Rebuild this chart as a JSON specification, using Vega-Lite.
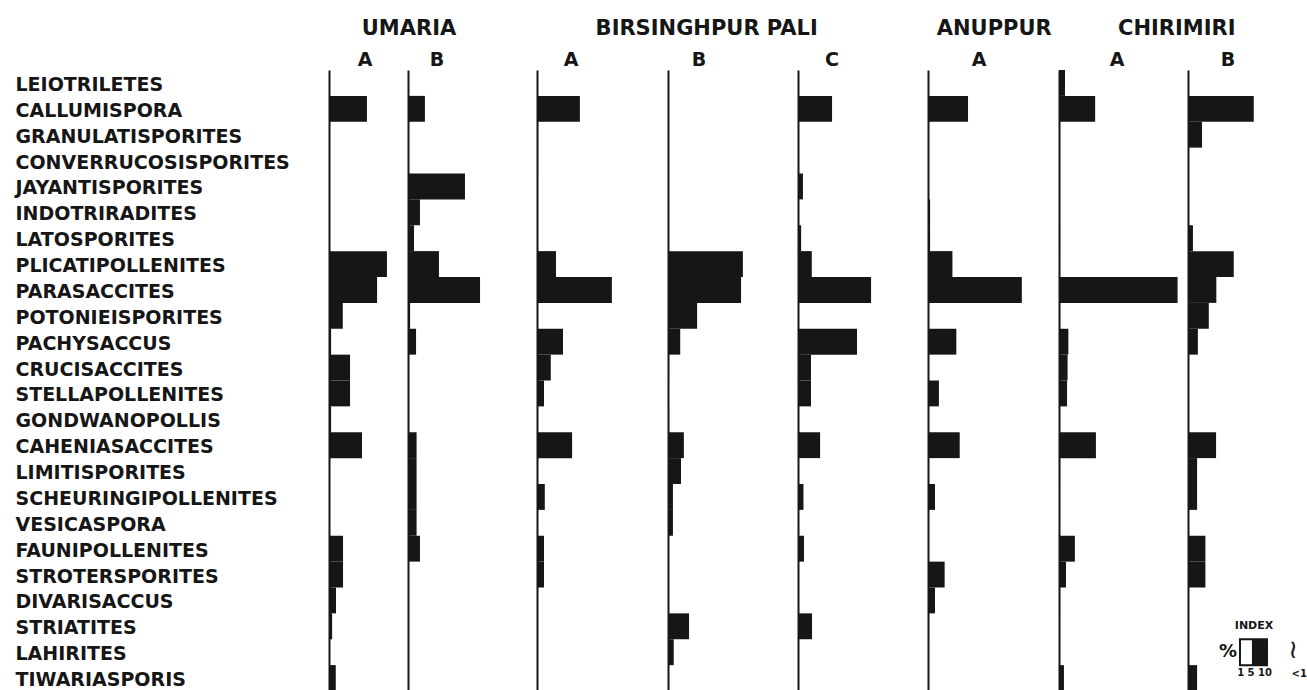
{
  "$schema": "https://vega.github.io/schema/vega-lite/v6.json",
  "background": "white",
  "padding": {"left": 15, "top": 18, "right": 0, "bottom": 0},
  "config": {
    "view": {"stroke": null},
    "concat": {"spacing": 0},
    "font": "DejaVu Sans",
    "title": {"font": "DejaVu Sans", "fontWeight": "bold", "color": "#161616"},
    "bar": {"color": "#161616"},
    "scale": {"nice": false},
    "axisY": {"domainColor": "#161616", "domainWidth": 2, "ticks": false, "tickSize": 0, "title": null, "grid": false}
  },
  "datasets": {
    "legendAnchor": [{"item": "index"}]
  },
  "data": {"values": [
    {"locality": "UMARIA", "sample": "A", "taxon": "CALLUMISPORA", "pct": 14.6},
    {"locality": "UMARIA", "sample": "A", "taxon": "PLICATIPOLLENITES", "pct": 22.3},
    {"locality": "UMARIA", "sample": "A", "taxon": "PARASACCITES", "pct": 18.5},
    {"locality": "UMARIA", "sample": "A", "taxon": "POTONIEISPORITES", "pct": 5.3},
    {"locality": "UMARIA", "sample": "A", "taxon": "PACHYSACCUS", "pct": 0.8},
    {"locality": "UMARIA", "sample": "A", "taxon": "CRUCISACCITES", "pct": 8.1},
    {"locality": "UMARIA", "sample": "A", "taxon": "STELLAPOLLENITES", "pct": 8.1},
    {"locality": "UMARIA", "sample": "A", "taxon": "GONDWANOPOLLIS", "pct": 0.8},
    {"locality": "UMARIA", "sample": "A", "taxon": "CAHENIASACCITES", "pct": 12.7},
    {"locality": "UMARIA", "sample": "A", "taxon": "FAUNIPOLLENITES", "pct": 5.4},
    {"locality": "UMARIA", "sample": "A", "taxon": "STROTERSPORITES", "pct": 5.4},
    {"locality": "UMARIA", "sample": "A", "taxon": "DIVARISACCUS", "pct": 2.7},
    {"locality": "UMARIA", "sample": "A", "taxon": "STRIATITES", "pct": 1.2},
    {"locality": "UMARIA", "sample": "A", "taxon": "TIWARIASPORIS", "pct": 2.6},

    {"locality": "UMARIA", "sample": "B", "taxon": "CALLUMISPORA", "pct": 6.5},
    {"locality": "UMARIA", "sample": "B", "taxon": "JAYANTISPORITES", "pct": 21.9},
    {"locality": "UMARIA", "sample": "B", "taxon": "INDOTRIRADITES", "pct": 4.6},
    {"locality": "UMARIA", "sample": "B", "taxon": "LATOSPORITES", "pct": 2.3},
    {"locality": "UMARIA", "sample": "B", "taxon": "PLICATIPOLLENITES", "pct": 11.9},
    {"locality": "UMARIA", "sample": "B", "taxon": "PARASACCITES", "pct": 27.7},
    {"locality": "UMARIA", "sample": "B", "taxon": "POTONIEISPORITES", "pct": 0.8},
    {"locality": "UMARIA", "sample": "B", "taxon": "PACHYSACCUS", "pct": 3.1},
    {"locality": "UMARIA", "sample": "B", "taxon": "CRUCISACCITES", "pct": 0.4},
    {"locality": "UMARIA", "sample": "B", "taxon": "STELLAPOLLENITES", "pct": 0.4},
    {"locality": "UMARIA", "sample": "B", "taxon": "GONDWANOPOLLIS", "pct": 0.4},
    {"locality": "UMARIA", "sample": "B", "taxon": "CAHENIASACCITES", "pct": 3.3},
    {"locality": "UMARIA", "sample": "B", "taxon": "LIMITISPORITES", "pct": 3.3},
    {"locality": "UMARIA", "sample": "B", "taxon": "SCHEURINGIPOLLENITES", "pct": 3.3},
    {"locality": "UMARIA", "sample": "B", "taxon": "VESICASPORA", "pct": 3.3},
    {"locality": "UMARIA", "sample": "B", "taxon": "FAUNIPOLLENITES", "pct": 4.6},

    {"locality": "BIRSINGHPUR PALI", "sample": "A", "taxon": "CALLUMISPORA", "pct": 16.5},
    {"locality": "BIRSINGHPUR PALI", "sample": "A", "taxon": "GRANULATISPORITES", "pct": 0.4},
    {"locality": "BIRSINGHPUR PALI", "sample": "A", "taxon": "CONVERRUCOSISPORITES", "pct": 0.4},
    {"locality": "BIRSINGHPUR PALI", "sample": "A", "taxon": "PLICATIPOLLENITES", "pct": 7.3},
    {"locality": "BIRSINGHPUR PALI", "sample": "A", "taxon": "PARASACCITES", "pct": 28.8},
    {"locality": "BIRSINGHPUR PALI", "sample": "A", "taxon": "PACHYSACCUS", "pct": 10.0},
    {"locality": "BIRSINGHPUR PALI", "sample": "A", "taxon": "CRUCISACCITES", "pct": 5.3},
    {"locality": "BIRSINGHPUR PALI", "sample": "A", "taxon": "STELLAPOLLENITES", "pct": 2.7},
    {"locality": "BIRSINGHPUR PALI", "sample": "A", "taxon": "CAHENIASACCITES", "pct": 13.5},
    {"locality": "BIRSINGHPUR PALI", "sample": "A", "taxon": "SCHEURINGIPOLLENITES", "pct": 3.0},
    {"locality": "BIRSINGHPUR PALI", "sample": "A", "taxon": "FAUNIPOLLENITES", "pct": 2.7},
    {"locality": "BIRSINGHPUR PALI", "sample": "A", "taxon": "STROTERSPORITES", "pct": 2.7},

    {"locality": "BIRSINGHPUR PALI", "sample": "B", "taxon": "PLICATIPOLLENITES", "pct": 28.8},
    {"locality": "BIRSINGHPUR PALI", "sample": "B", "taxon": "PARASACCITES", "pct": 28.1},
    {"locality": "BIRSINGHPUR PALI", "sample": "B", "taxon": "POTONIEISPORITES", "pct": 11.2},
    {"locality": "BIRSINGHPUR PALI", "sample": "B", "taxon": "PACHYSACCUS", "pct": 4.7},
    {"locality": "BIRSINGHPUR PALI", "sample": "B", "taxon": "CRUCISACCITES", "pct": 0.4},
    {"locality": "BIRSINGHPUR PALI", "sample": "B", "taxon": "GONDWANOPOLLIS", "pct": 0.4},
    {"locality": "BIRSINGHPUR PALI", "sample": "B", "taxon": "CAHENIASACCITES", "pct": 6.1},
    {"locality": "BIRSINGHPUR PALI", "sample": "B", "taxon": "LIMITISPORITES", "pct": 5.0},
    {"locality": "BIRSINGHPUR PALI", "sample": "B", "taxon": "SCHEURINGIPOLLENITES", "pct": 1.9},
    {"locality": "BIRSINGHPUR PALI", "sample": "B", "taxon": "VESICASPORA", "pct": 1.9},
    {"locality": "BIRSINGHPUR PALI", "sample": "B", "taxon": "STRIATITES", "pct": 8.1},
    {"locality": "BIRSINGHPUR PALI", "sample": "B", "taxon": "LAHIRITES", "pct": 2.2},
    {"locality": "BIRSINGHPUR PALI", "sample": "B", "taxon": "TIWARIASPORIS", "pct": 0.4},

    {"locality": "BIRSINGHPUR PALI", "sample": "C", "taxon": "CALLUMISPORA", "pct": 13.1},
    {"locality": "BIRSINGHPUR PALI", "sample": "C", "taxon": "JAYANTISPORITES", "pct": 1.9},
    {"locality": "BIRSINGHPUR PALI", "sample": "C", "taxon": "LATOSPORITES", "pct": 1.2},
    {"locality": "BIRSINGHPUR PALI", "sample": "C", "taxon": "PLICATIPOLLENITES", "pct": 5.3},
    {"locality": "BIRSINGHPUR PALI", "sample": "C", "taxon": "PARASACCITES", "pct": 28.1},
    {"locality": "BIRSINGHPUR PALI", "sample": "C", "taxon": "PACHYSACCUS", "pct": 22.7},
    {"locality": "BIRSINGHPUR PALI", "sample": "C", "taxon": "CRUCISACCITES", "pct": 5.0},
    {"locality": "BIRSINGHPUR PALI", "sample": "C", "taxon": "STELLAPOLLENITES", "pct": 5.0},
    {"locality": "BIRSINGHPUR PALI", "sample": "C", "taxon": "CAHENIASACCITES", "pct": 8.5},
    {"locality": "BIRSINGHPUR PALI", "sample": "C", "taxon": "SCHEURINGIPOLLENITES", "pct": 2.1},
    {"locality": "BIRSINGHPUR PALI", "sample": "C", "taxon": "FAUNIPOLLENITES", "pct": 2.3},
    {"locality": "BIRSINGHPUR PALI", "sample": "C", "taxon": "STRIATITES", "pct": 5.4},

    {"locality": "ANUPPUR", "sample": "A", "taxon": "CALLUMISPORA", "pct": 15.4},
    {"locality": "ANUPPUR", "sample": "A", "taxon": "INDOTRIRADITES", "pct": 0.8},
    {"locality": "ANUPPUR", "sample": "A", "taxon": "LATOSPORITES", "pct": 0.8},
    {"locality": "ANUPPUR", "sample": "A", "taxon": "PLICATIPOLLENITES", "pct": 9.4},
    {"locality": "ANUPPUR", "sample": "A", "taxon": "PARASACCITES", "pct": 36.1},
    {"locality": "ANUPPUR", "sample": "A", "taxon": "PACHYSACCUS", "pct": 10.9},
    {"locality": "ANUPPUR", "sample": "A", "taxon": "STELLAPOLLENITES", "pct": 4.2},
    {"locality": "ANUPPUR", "sample": "A", "taxon": "CAHENIASACCITES", "pct": 12.2},
    {"locality": "ANUPPUR", "sample": "A", "taxon": "SCHEURINGIPOLLENITES", "pct": 2.7},
    {"locality": "ANUPPUR", "sample": "A", "taxon": "STROTERSPORITES", "pct": 6.4},
    {"locality": "ANUPPUR", "sample": "A", "taxon": "DIVARISACCUS", "pct": 2.7},
    {"locality": "ANUPPUR", "sample": "A", "taxon": "STRIATITES", "pct": 0.4},

    {"locality": "CHIRIMIRI", "sample": "A", "taxon": "LEIOTRILETES", "pct": 2.3},
    {"locality": "CHIRIMIRI", "sample": "A", "taxon": "CALLUMISPORA", "pct": 13.9},
    {"locality": "CHIRIMIRI", "sample": "A", "taxon": "LATOSPORITES", "pct": 0.4},
    {"locality": "CHIRIMIRI", "sample": "A", "taxon": "PARASACCITES", "pct": 45.6},
    {"locality": "CHIRIMIRI", "sample": "A", "taxon": "POTONIEISPORITES", "pct": 0.4},
    {"locality": "CHIRIMIRI", "sample": "A", "taxon": "PACHYSACCUS", "pct": 3.6},
    {"locality": "CHIRIMIRI", "sample": "A", "taxon": "CRUCISACCITES", "pct": 3.3},
    {"locality": "CHIRIMIRI", "sample": "A", "taxon": "STELLAPOLLENITES", "pct": 3.1},
    {"locality": "CHIRIMIRI", "sample": "A", "taxon": "CAHENIASACCITES", "pct": 14.2},
    {"locality": "CHIRIMIRI", "sample": "A", "taxon": "LIMITISPORITES", "pct": 0.4},
    {"locality": "CHIRIMIRI", "sample": "A", "taxon": "FAUNIPOLLENITES", "pct": 6.1},
    {"locality": "CHIRIMIRI", "sample": "A", "taxon": "STROTERSPORITES", "pct": 2.7},
    {"locality": "CHIRIMIRI", "sample": "A", "taxon": "DIVARISACCUS", "pct": 0.4},
    {"locality": "CHIRIMIRI", "sample": "A", "taxon": "TIWARIASPORIS", "pct": 1.9},

    {"locality": "CHIRIMIRI", "sample": "B", "taxon": "CALLUMISPORA", "pct": 25.3},
    {"locality": "CHIRIMIRI", "sample": "B", "taxon": "GRANULATISPORITES", "pct": 5.4},
    {"locality": "CHIRIMIRI", "sample": "B", "taxon": "LATOSPORITES", "pct": 1.9},
    {"locality": "CHIRIMIRI", "sample": "B", "taxon": "PLICATIPOLLENITES", "pct": 17.6},
    {"locality": "CHIRIMIRI", "sample": "B", "taxon": "PARASACCITES", "pct": 10.9},
    {"locality": "CHIRIMIRI", "sample": "B", "taxon": "POTONIEISPORITES", "pct": 8.0},
    {"locality": "CHIRIMIRI", "sample": "B", "taxon": "PACHYSACCUS", "pct": 3.8},
    {"locality": "CHIRIMIRI", "sample": "B", "taxon": "CAHENIASACCITES", "pct": 10.8},
    {"locality": "CHIRIMIRI", "sample": "B", "taxon": "LIMITISPORITES", "pct": 3.5},
    {"locality": "CHIRIMIRI", "sample": "B", "taxon": "SCHEURINGIPOLLENITES", "pct": 3.5},
    {"locality": "CHIRIMIRI", "sample": "B", "taxon": "FAUNIPOLLENITES", "pct": 6.7},
    {"locality": "CHIRIMIRI", "sample": "B", "taxon": "STROTERSPORITES", "pct": 6.7},
    {"locality": "CHIRIMIRI", "sample": "B", "taxon": "TIWARIASPORIS", "pct": 3.5}
  ]},
  "hconcat": [
    {
      "title": {"text": "UMARIA", "anchor": "middle", "fontSize": 21, "dx": 133, "offset": 12},
      "hconcat": [
        {
          "width": 79, "height": 621,
          "title": {"text": "A", "anchor": "start", "frame": "group", "align": "center", "dx": 36, "fontSize": 19, "offset": 0},
          "transform": [{"filter": "datum.locality == 'UMARIA' && datum.sample == 'A'"}],
          "mark": "bar",
          "encoding": {
            "y": {"field": "taxon", "type": "nominal",
                  "scale": {"domain": ["LEIOTRILETES","CALLUMISPORA","GRANULATISPORITES","CONVERRUCOSISPORITES","JAYANTISPORITES","INDOTRIRADITES","LATOSPORITES","PLICATIPOLLENITES","PARASACCITES","POTONIEISPORITES","PACHYSACCUS","CRUCISACCITES","STELLAPOLLENITES","GONDWANOPOLLIS","CAHENIASACCITES","LIMITISPORITES","SCHEURINGIPOLLENITES","VESICASPORA","FAUNIPOLLENITES","STROTERSPORITES","DIVARISACCUS","STRIATITES","LAHIRITES","TIWARIASPORIS"], "paddingInner": 0, "paddingOuter": 0},
                  "axis": {"labels": true, "labelAlign": "left", "labelPadding": 314, "labelOffset": 2, "labelFontSize": 19, "labelFontWeight": "bold", "labelColor": "#161616", "labelLimit": 400, "labelFont": "DejaVu Sans"}},
            "x": {"field": "pct", "type": "quantitative", "scale": {"domain": [0, 30.4], "nice": false}, "axis": null}
          }
        },
        {
          "width": 129, "height": 621,
          "title": {"text": "B", "anchor": "start", "frame": "group", "align": "center", "dx": 29, "fontSize": 19, "offset": 0},
          "transform": [{"filter": "datum.locality == 'UMARIA' && datum.sample == 'B'"}],
          "mark": "bar",
          "encoding": {
            "y": {"field": "taxon", "type": "nominal",
                  "scale": {"domain": ["LEIOTRILETES","CALLUMISPORA","GRANULATISPORITES","CONVERRUCOSISPORITES","JAYANTISPORITES","INDOTRIRADITES","LATOSPORITES","PLICATIPOLLENITES","PARASACCITES","POTONIEISPORITES","PACHYSACCUS","CRUCISACCITES","STELLAPOLLENITES","GONDWANOPOLLIS","CAHENIASACCITES","LIMITISPORITES","SCHEURINGIPOLLENITES","VESICASPORA","FAUNIPOLLENITES","STROTERSPORITES","DIVARISACCUS","STRIATITES","LAHIRITES","TIWARIASPORIS"], "paddingInner": 0, "paddingOuter": 0},
                  "axis": {"labels": false}},
            "x": {"field": "pct", "type": "quantitative", "scale": {"domain": [0, 49.6], "nice": false}, "axis": null}
          }
        }
      ]
    },
    {
      "title": {"text": "BIRSINGHPUR PALI", "anchor": "middle", "fontSize": 21, "dx": -25.8, "offset": 12},
      "hconcat": [
        {
          "width": 131, "height": 621,
          "title": {"text": "A", "anchor": "start", "frame": "group", "align": "center", "dx": 34, "fontSize": 19, "offset": 0},
          "transform": [{"filter": "datum.locality == 'BIRSINGHPUR PALI' && datum.sample == 'A'"}],
          "mark": "bar",
          "encoding": {
            "y": {"field": "taxon", "type": "nominal",
                  "scale": {"domain": ["LEIOTRILETES","CALLUMISPORA","GRANULATISPORITES","CONVERRUCOSISPORITES","JAYANTISPORITES","INDOTRIRADITES","LATOSPORITES","PLICATIPOLLENITES","PARASACCITES","POTONIEISPORITES","PACHYSACCUS","CRUCISACCITES","STELLAPOLLENITES","GONDWANOPOLLIS","CAHENIASACCITES","LIMITISPORITES","SCHEURINGIPOLLENITES","VESICASPORA","FAUNIPOLLENITES","STROTERSPORITES","DIVARISACCUS","STRIATITES","LAHIRITES","TIWARIASPORIS"], "paddingInner": 0, "paddingOuter": 0},
                  "axis": {"labels": false}},
            "x": {"field": "pct", "type": "quantitative", "scale": {"domain": [0, 50.4], "nice": false}, "axis": null}
          }
        },
        {
          "width": 130, "height": 621,
          "title": {"text": "B", "anchor": "start", "frame": "group", "align": "center", "dx": 31, "fontSize": 19, "offset": 0},
          "transform": [{"filter": "datum.locality == 'BIRSINGHPUR PALI' && datum.sample == 'B'"}],
          "mark": "bar",
          "encoding": {
            "y": {"field": "taxon", "type": "nominal",
                  "scale": {"domain": ["LEIOTRILETES","CALLUMISPORA","GRANULATISPORITES","CONVERRUCOSISPORITES","JAYANTISPORITES","INDOTRIRADITES","LATOSPORITES","PLICATIPOLLENITES","PARASACCITES","POTONIEISPORITES","PACHYSACCUS","CRUCISACCITES","STELLAPOLLENITES","GONDWANOPOLLIS","CAHENIASACCITES","LIMITISPORITES","SCHEURINGIPOLLENITES","VESICASPORA","FAUNIPOLLENITES","STROTERSPORITES","DIVARISACCUS","STRIATITES","LAHIRITES","TIWARIASPORIS"], "paddingInner": 0, "paddingOuter": 0},
                  "axis": {"labels": false}},
            "x": {"field": "pct", "type": "quantitative", "scale": {"domain": [0, 50], "nice": false}, "axis": null}
          }
        },
        {
          "width": 130, "height": 621,
          "title": {"text": "C", "anchor": "start", "frame": "group", "align": "center", "dx": 34, "fontSize": 19, "offset": 0},
          "transform": [{"filter": "datum.locality == 'BIRSINGHPUR PALI' && datum.sample == 'C'"}],
          "mark": "bar",
          "encoding": {
            "y": {"field": "taxon", "type": "nominal",
                  "scale": {"domain": ["LEIOTRILETES","CALLUMISPORA","GRANULATISPORITES","CONVERRUCOSISPORITES","JAYANTISPORITES","INDOTRIRADITES","LATOSPORITES","PLICATIPOLLENITES","PARASACCITES","POTONIEISPORITES","PACHYSACCUS","CRUCISACCITES","STELLAPOLLENITES","GONDWANOPOLLIS","CAHENIASACCITES","LIMITISPORITES","SCHEURINGIPOLLENITES","VESICASPORA","FAUNIPOLLENITES","STROTERSPORITES","DIVARISACCUS","STRIATITES","LAHIRITES","TIWARIASPORIS"], "paddingInner": 0, "paddingOuter": 0},
                  "axis": {"labels": false}},
            "x": {"field": "pct", "type": "quantitative", "scale": {"domain": [0, 50], "nice": false}, "axis": null}
          }
        }
      ]
    },
    {
      "title": {"text": "ANUPPUR", "anchor": "middle", "fontSize": 21, "dx": 0.7, "offset": 12},
      "hconcat": [
        {
          "width": 131, "height": 621,
          "title": {"text": "A", "anchor": "start", "frame": "group", "align": "center", "dx": 51, "fontSize": 19, "offset": 0},
          "transform": [{"filter": "datum.locality == 'ANUPPUR' && datum.sample == 'A'"}],
          "mark": "bar",
          "encoding": {
            "y": {"field": "taxon", "type": "nominal",
                  "scale": {"domain": ["LEIOTRILETES","CALLUMISPORA","GRANULATISPORITES","CONVERRUCOSISPORITES","JAYANTISPORITES","INDOTRIRADITES","LATOSPORITES","PLICATIPOLLENITES","PARASACCITES","POTONIEISPORITES","PACHYSACCUS","CRUCISACCITES","STELLAPOLLENITES","GONDWANOPOLLIS","CAHENIASACCITES","LIMITISPORITES","SCHEURINGIPOLLENITES","VESICASPORA","FAUNIPOLLENITES","STROTERSPORITES","DIVARISACCUS","STRIATITES","LAHIRITES","TIWARIASPORIS"], "paddingInner": 0, "paddingOuter": 0},
                  "axis": {"labels": false}},
            "x": {"field": "pct", "type": "quantitative", "scale": {"domain": [0, 50.4], "nice": false}, "axis": null}
          }
        }
      ]
    },
    {
      "title": {"text": "CHIRIMIRI", "anchor": "middle", "fontSize": 21, "dx": -6.2, "offset": 12},
      "hconcat": [
        {
          "width": 129, "height": 621,
          "title": {"text": "A", "anchor": "start", "frame": "group", "align": "center", "dx": 58, "fontSize": 19, "offset": 0},
          "transform": [{"filter": "datum.locality == 'CHIRIMIRI' && datum.sample == 'A'"}],
          "mark": "bar",
          "encoding": {
            "y": {"field": "taxon", "type": "nominal",
                  "scale": {"domain": ["LEIOTRILETES","CALLUMISPORA","GRANULATISPORITES","CONVERRUCOSISPORITES","JAYANTISPORITES","INDOTRIRADITES","LATOSPORITES","PLICATIPOLLENITES","PARASACCITES","POTONIEISPORITES","PACHYSACCUS","CRUCISACCITES","STELLAPOLLENITES","GONDWANOPOLLIS","CAHENIASACCITES","LIMITISPORITES","SCHEURINGIPOLLENITES","VESICASPORA","FAUNIPOLLENITES","STROTERSPORITES","DIVARISACCUS","STRIATITES","LAHIRITES","TIWARIASPORIS"], "paddingInner": 0, "paddingOuter": 0},
                  "axis": {"labels": false}},
            "x": {"field": "pct", "type": "quantitative", "scale": {"domain": [0, 49.6], "nice": false}, "axis": null}
          }
        },
        {
          "width": 118, "height": 621,
          "title": {"text": "B", "anchor": "start", "frame": "group", "align": "center", "dx": 40, "fontSize": 19, "offset": 0},
          "layer": [
            {
              "transform": [{"filter": "datum.locality == 'CHIRIMIRI' && datum.sample == 'B'"}],
              "mark": "bar",
              "encoding": {
                "y": {"field": "taxon", "type": "nominal",
                      "scale": {"domain": ["LEIOTRILETES","CALLUMISPORA","GRANULATISPORITES","CONVERRUCOSISPORITES","JAYANTISPORITES","INDOTRIRADITES","LATOSPORITES","PLICATIPOLLENITES","PARASACCITES","POTONIEISPORITES","PACHYSACCUS","CRUCISACCITES","STELLAPOLLENITES","GONDWANOPOLLIS","CAHENIASACCITES","LIMITISPORITES","SCHEURINGIPOLLENITES","VESICASPORA","FAUNIPOLLENITES","STROTERSPORITES","DIVARISACCUS","STRIATITES","LAHIRITES","TIWARIASPORIS"], "paddingInner": 0, "paddingOuter": 0},
                      "axis": {"labels": false}},
                "x": {"field": "pct", "type": "quantitative", "scale": {"domain": [0, 45.4], "nice": false}, "axis": null}
              }
            },
            {
              "data": {"name": "legendAnchor"},
              "mark": {"type": "text", "text": "INDEX", "fontSize": 11, "fontWeight": "bold", "color": "#161616"},
              "encoding": {"x": {"datum": 25.4, "type": "quantitative", "scale": {"domain": [0, 45.4], "nice": false}}, "y": {"datum": "STRIATITES", "type": "nominal"}}
            },
            {
              "data": {"name": "legendAnchor"},
              "mark": {"type": "rect", "fill": "white", "stroke": "#161616", "strokeWidth": 2},
              "encoding": {"x": {"datum": 20, "type": "quantitative", "scale": {"domain": [0, 45.4], "nice": false}}, "x2": {"datum": 30.4}, "y": {"datum": "LAHIRITES", "type": "nominal"}}
            },
            {
              "data": {"name": "legendAnchor"},
              "mark": {"type": "rect", "fill": "#161616"},
              "encoding": {"x": {"datum": 24.6, "type": "quantitative", "scale": {"domain": [0, 45.4], "nice": false}}, "x2": {"datum": 30.4}, "y": {"datum": "LAHIRITES", "type": "nominal"}}
            },
            {
              "data": {"name": "legendAnchor"},
              "mark": {"type": "text", "text": "%", "fontSize": 18, "fontWeight": "bold", "color": "#161616"},
              "encoding": {"x": {"datum": 15.4, "type": "quantitative", "scale": {"domain": [0, 45.4], "nice": false}}, "y": {"datum": "LAHIRITES", "type": "nominal"}}
            },
            {
              "data": {"name": "legendAnchor"},
              "mark": {"type": "text", "text": "≀", "fontSize": 26, "dy": -2, "color": "#161616"},
              "encoding": {"x": {"datum": 40.4, "type": "quantitative", "scale": {"domain": [0, 45.4], "nice": false}}, "y": {"datum": "LAHIRITES", "type": "nominal"}}
            },
            {
              "data": {"name": "legendAnchor"},
              "mark": {"type": "text", "text": "1   5  10", "fontSize": 10, "fontWeight": "bold", "dy": -5, "color": "#161616"},
              "encoding": {"x": {"datum": 25.6, "type": "quantitative", "scale": {"domain": [0, 45.4], "nice": false}}, "y": {"datum": "TIWARIASPORIS", "type": "nominal"}}
            },
            {
              "data": {"name": "legendAnchor"},
              "mark": {"type": "text", "text": "<1", "fontSize": 10, "fontWeight": "bold", "dy": -4, "color": "#161616"},
              "encoding": {"x": {"datum": 42.8, "type": "quantitative", "scale": {"domain": [0, 45.4], "nice": false}}, "y": {"datum": "TIWARIASPORIS", "type": "nominal"}}
            }
          ]
        }
      ]
    }
  ]
}
